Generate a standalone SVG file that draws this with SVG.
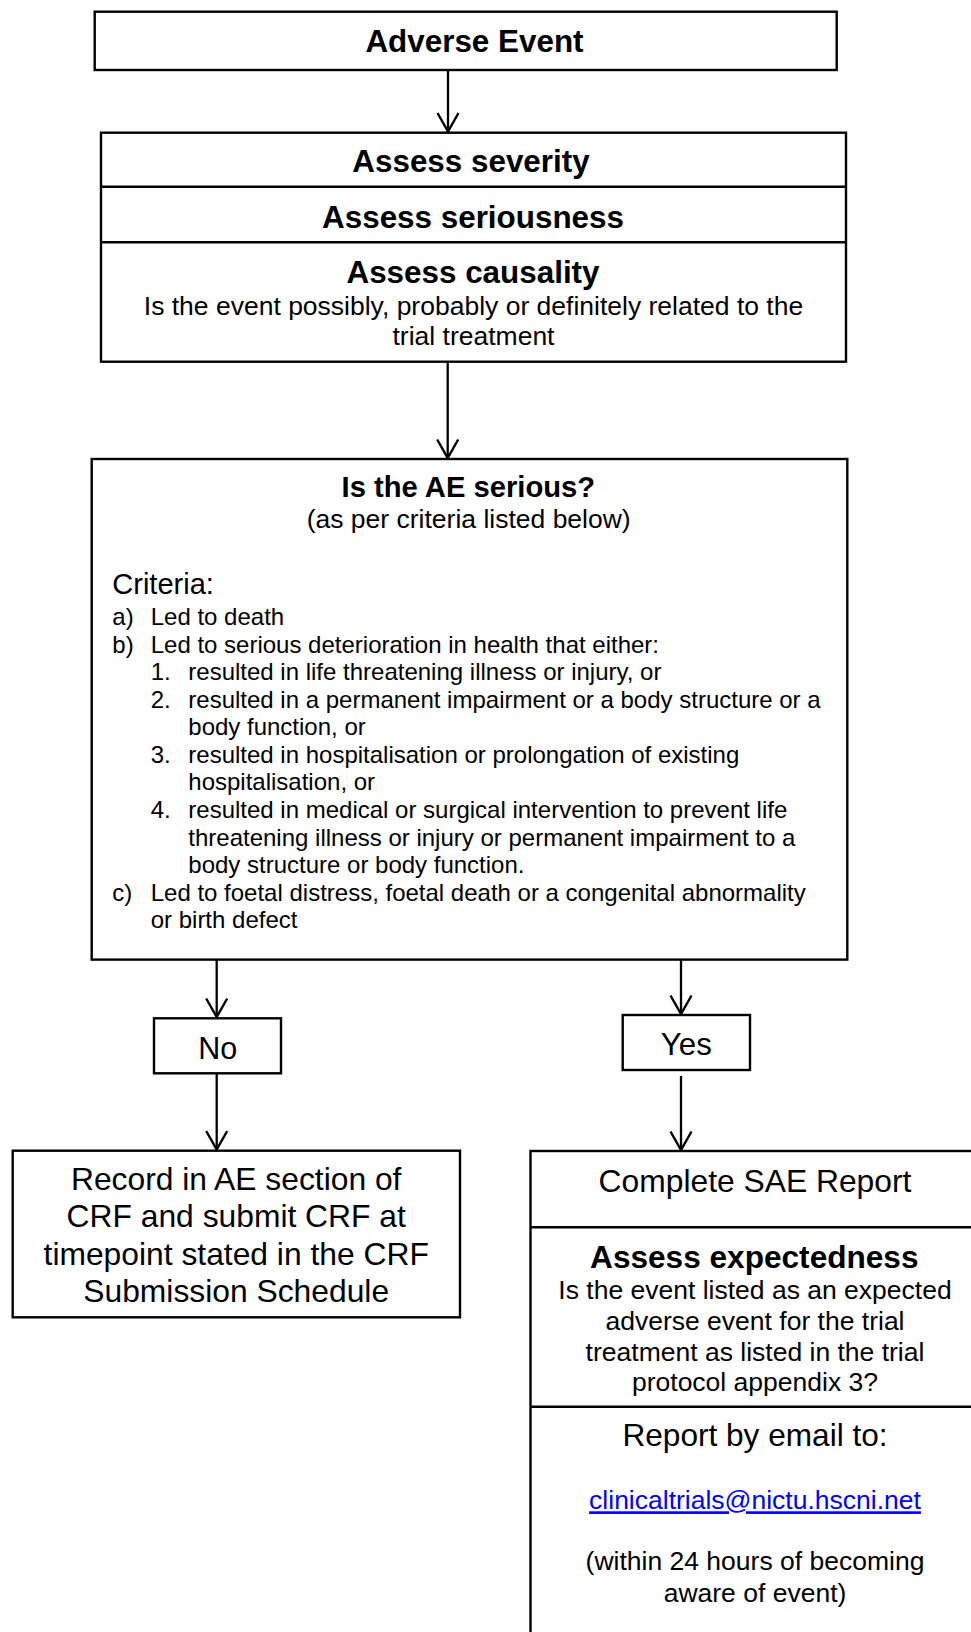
<svg xmlns="http://www.w3.org/2000/svg" width="971" height="1632" viewBox="0 0 971 1632">
<defs>
<style>
.box{fill:#fff;stroke:#000;stroke-width:2.4}
.div{stroke:#000;stroke-width:2.4}
.con{stroke:#000;stroke-width:2.3;fill:none}
text{font-family:"Liberation Sans",Arial,sans-serif;fill:#000}
.h{font-weight:bold;font-size:31.4px;text-anchor:middle}
.n{font-size:26.5px;text-anchor:middle}
.l{font-size:24px}
.big{font-size:31.8px;text-anchor:middle}
.link{fill:#0000ff;text-decoration:underline}
</style>
<marker id="arr" markerUnits="userSpaceOnUse" markerWidth="30" markerHeight="30" refX="19" refY="10" orient="auto" overflow="visible">
<path d="M0.5,-0.5 L19,10 L0.5,20.5" fill="none" stroke="#000" stroke-width="2.4"/>
</marker>
</defs>
<rect width="971" height="1632" fill="#fff"/>

<g id="connectors">
<line class="con" x1="448" y1="70" x2="448" y2="131.5" marker-end="url(#arr)"/>
<line class="con" x1="447.7" y1="361.7" x2="447.7" y2="458" marker-end="url(#arr)"/>
<line class="con" x1="216.7" y1="960" x2="216.7" y2="1017" marker-end="url(#arr)"/>
<line class="con" x1="681" y1="960" x2="681" y2="1014" marker-end="url(#arr)"/>
<line class="con" x1="216.7" y1="1073.3" x2="216.7" y2="1149.5" marker-end="url(#arr)"/>
<line class="con" x1="681" y1="1076" x2="681" y2="1150" marker-end="url(#arr)"/>
</g>

<g id="adverse-event">
<rect class="box" x="94.7" y="11.7" width="742" height="58.3"/>
<text class="h" x="474.5" y="51.7">Adverse Event</text>
</g>

<g id="assess">
<rect class="box" x="101" y="132.7" width="745" height="229"/>
<line class="div" x1="101" y1="186.7" x2="846" y2="186.7"/>
<line class="div" x1="101" y1="242.3" x2="846" y2="242.3"/>
<text class="h" x="471" y="172.3">Assess severity</text>
<text class="h" x="473" y="228.3">Assess seriousness</text>
<text class="h" x="473" y="283.3">Assess causality</text>
<text class="n" x="473.5" y="315">Is the event possibly, probably or definitely related to the</text>
<text class="n" x="473.5" y="345">trial treatment</text>
</g>

<g id="is-serious">
<rect class="box" x="91.7" y="459" width="755.6" height="500.6"/>
<text class="h" x="468.4" y="496.7" style="font-size:29.2px">Is the AE serious?</text>
<text class="n" x="468.7" y="528.3">(as per criteria listed below)</text>
<text x="112.3" y="594.3" style="font-size:29px">Criteria:</text>
<g class="l">
<text x="112.3" y="625">a)</text><text x="150.7" y="625">Led to death</text>
<text x="112.3" y="652.6">b)</text><text x="150.7" y="652.6">Led to serious deterioration in health that either:</text>
<text x="150.7" y="680.1">1.</text><text x="188.3" y="680.1">resulted in life threatening illness or injury, or</text>
<text x="150.7" y="707.7">2.</text><text x="188.3" y="707.7">resulted in a permanent impairment or a body structure or a</text>
<text x="188.3" y="735.3">body function, or</text>
<text x="150.7" y="762.9">3.</text><text x="188.3" y="762.9">resulted in hospitalisation or prolongation of existing</text>
<text x="188.3" y="790.4">hospitalisation, or</text>
<text x="150.7" y="818">4.</text><text x="188.3" y="818">resulted in medical or surgical intervention to prevent life</text>
<text x="188.3" y="845.6">threatening illness or injury or permanent impairment to a</text>
<text x="188.3" y="873.1">body structure or body function.</text>
<text x="112.3" y="900.7">c)</text><text x="150.7" y="900.7">Led to foetal distress, foetal death or a congenital abnormality</text>
<text x="150.7" y="928.3">or birth defect</text>
</g>
</g>

<g id="no">
<rect class="box" x="154" y="1018.3" width="127" height="55"/>
<text class="big" x="217.8" y="1059" style="font-size:30.5px">No</text>
</g>

<g id="yes">
<rect class="box" x="622.7" y="1015" width="127.3" height="55"/>
<text class="big" x="686.3" y="1055" style="font-size:31.3px">Yes</text>
</g>

<g id="record">
<rect class="box" x="12.7" y="1150.7" width="447.3" height="166.6"/>
<text class="big" x="236.2" y="1190">Record in AE section of</text>
<text class="big" x="236.2" y="1227">CRF and submit CRF at</text>
<text class="big" x="236.2" y="1265">timepoint stated in the CRF</text>
<text class="big" x="236.2" y="1302">Submission Schedule</text>
</g>

<g id="sae">
<rect class="box" x="530.5" y="1151" width="470" height="500"/>
<line class="div" x1="530.5" y1="1227.3" x2="975" y2="1227.3"/>
<line class="div" x1="530.5" y1="1406.7" x2="975" y2="1406.7"/>
<text class="big" x="755" y="1192">Complete SAE Report</text>
<text class="h" x="754.3" y="1267.7" style="font-size:31.6px">Assess expectedness</text>
<text class="n" x="755" y="1299.3">Is the event listed as an expected</text>
<text class="n" x="755" y="1330">adverse event for the trial</text>
<text class="n" x="755" y="1360.7">treatment as listed in the trial</text>
<text class="n" x="755" y="1390.7">protocol appendix 3?</text>
<text class="big" x="755" y="1445.7" style="font-size:31.6px">Report by email to:</text>
<text class="n link" x="755" y="1509.3">clinicaltrials@nictu.hscni.net</text>
<text class="n" x="755" y="1570">(within 24 hours of becoming</text>
<text class="n" x="755" y="1601.7">aware of event)</text>
</g>
</svg>
